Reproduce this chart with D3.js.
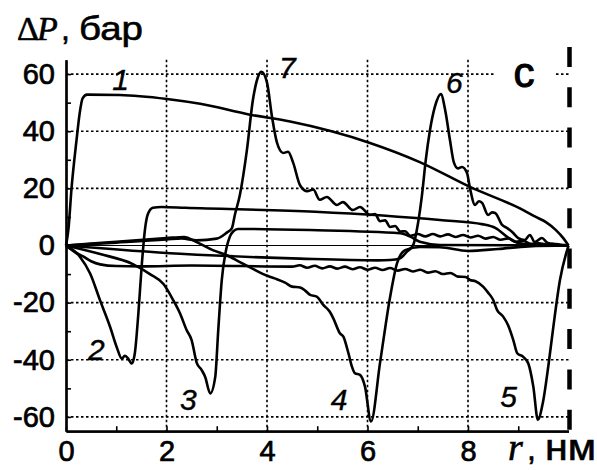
<!DOCTYPE html>
<html>
<head>
<meta charset="utf-8">
<script src="https://cdn.jsdelivr.net/npm/d3@7"></script>
<style>
  body { margin: 0; background: #fff; }
  svg { display: block; }
</style>
</head>
<body>
<div id="chart"></div>
<script>
// Values: [r (nm), dP (bar)]
const curve1 = [[0,0],[0.05,6],[0.11,20],[0.21,37],[0.27,46],[0.33,51.5],[0.42,52.8],[1.07,52.7],[2.01,51.3],[2.67,49.6],[3.66,45.8],[4.46,43.4],[6.05,35.9],[7.04,29.2],[8.04,20.5],[9.1,12.4],[9.35,10],[9.55,8.2],[9.75,5.4],[9.9,2.5],[10,0]];
const curve2 = [[0,0],[0.28,-4],[0.48,-9.8],[0.68,-19.3],[0.88,-28.6],[1.01,-35.6],[1.11,-39.6],[1.17,-38.6],[1.23,-39.4],[1.31,-41.3],[1.37,-37.7],[1.44,-23.8],[1.51,-6.3],[1.57,5.4],[1.63,11],[1.73,13.2],[1.9,13.5],[2.37,13.2],[4.96,11.8],[7.44,8.9],[8.3,7.4],[8.55,6.1],[8.8,2.8],[9.0,0.9],[9.3,0.2],[10,0]];
const curve3 = [[0,0],[0.68,-3],[1.33,-6.5],[1.67,-10],[1.94,-13.5],[2.13,-19],[2.27,-23.8],[2.4,-29.6],[2.5,-33.1],[2.6,-41],[2.7,-43.6],[2.77,-46],[2.87,-51.8],[2.97,-46],[3.03,-29.6],[3.1,-12.1],[3.2,-0.4],[3.26,3.1],[3.33,5],[3.42,5.8],[4.86,5.4],[6.65,4.3],[6.85,3.1],[7.04,1.3],[7.44,0.2],[10,0]];
const curve4 = [[0,0],[1.0,1.3],[2.0,2.6],[2.35,3.0],[2.6,1.2],[2.92,-1.6],[3.2,-3.4],[3.46,-5.8],[3.7,-8],[3.96,-10.3],[4.15,-11.5],[4.36,-13],[4.5,-14.4],[4.66,-14.7],[4.76,-15.8],[4.86,-17.3],[4.99,-17.9],[5.12,-20.8],[5.25,-23.2],[5.32,-25.5],[5.45,-30.7],[5.52,-31.9],[5.62,-37.7],[5.69,-42.4],[5.75,-44.7],[5.85,-45.3],[5.95,-49.4],[6.07,-61.6],[6.25,-41],[6.45,-18],[6.59,-6.1],[6.75,-1.6],[7.04,-0.5],[7.44,-0.6],[8.0,-1.9],[8.6,-1.2],[9.2,-0.3],[10,0]];
const curve5 = [[0,0],[0.15,-2],[0.34,-3.8],[0.5,-5.5],[0.68,-6.6],[1.0,-7.2],[1.5,-7.3],[2.5,-7.0],[4.5,-7.4],[4.65,-6.9],[4.8,-7.8],[4.95,-7.1],[5.1,-8.0],[5.25,-7.3],[5.4,-8.1],[5.55,-7.4],[5.7,-8.3],[5.85,-7.6],[6.0,-8.5],[6.15,-7.8],[6.3,-8.6],[6.45,-7.9],[6.6,-8.8],[6.75,-8.2],[6.9,-9.1],[7.05,-8.5],[7.2,-9.5],[7.35,-9.0],[7.5,-10.0],[7.65,-9.6],[7.8,-10.9],[7.95,-11.0],[8.04,-12.1],[8.15,-12.5],[8.3,-14.4],[8.4,-16.5],[8.5,-19],[8.58,-22.6],[8.7,-24.9],[8.8,-28],[8.9,-33],[8.98,-37.7],[9.1,-39],[9.2,-41.3],[9.3,-49.4],[9.39,-61],[9.49,-55],[9.6,-42],[9.69,-29.6],[9.83,-12.1],[10,0]];
const curve6 = [[0,0],[2.27,-2.9],[4.66,-4.6],[6.2,-5.2],[6.45,-5.1],[6.65,-4.5],[6.78,-2.2],[6.91,0.2],[7.01,8.3],[7.08,17],[7.16,30],[7.24,40],[7.34,48.5],[7.46,53],[7.55,47],[7.64,37],[7.72,29],[7.8,27],[7.88,27.5],[7.98,25.4],[8.04,20],[8.14,14.2],[8.22,15.5],[8.28,14.9],[8.4,10.7],[8.48,11.6],[8.54,11.4],[8.68,7.2],[8.78,6.1],[8.88,4.7],[9.0,2.6],[9.13,1.9],[9.23,3.7],[9.33,1.2],[9.47,2.6],[9.59,0.9],[9.75,0.5],[10,0]];
const curve7 = [[0,0],[1.0,1.0],[2.0,2.1],[2.3,2.5],[2.6,1.8],[3.0,2.4],[3.2,4.5],[3.3,6],[3.36,10.7],[3.46,17.7],[3.6,33.4],[3.72,51],[3.82,59],[3.89,60.8],[4.0,57],[4.1,45],[4.2,35.9],[4.32,32.4],[4.42,32.8],[4.52,29],[4.66,21],[4.8,19],[4.92,19.6],[5.05,16],[5.19,17],[5.39,14.2],[5.51,15.2],[5.71,12.4],[5.85,13.5],[6.05,10.7],[6.15,11.0],[6.25,8.5],[6.35,8.8],[6.45,6.5],[6.55,6.8],[6.65,4.9],[6.75,5.0],[6.85,3.4],[7.0,4.0],[7.15,3.2],[7.3,4.0],[7.45,3.2],[7.6,3.9],[7.75,3.0],[7.9,3.7],[8.05,2.8],[8.2,3.4],[8.35,2.4],[8.5,3.0],[8.65,2.0],[8.8,2.5],[8.95,1.3],[9.1,1.6],[9.25,0.6],[9.4,0.8],[9.6,0.2],[10,0]];
const curves = [curve1, curve2, curve3, curve4, curve5, curve6, curve7];

// Curve numbers, placed in data coordinates
const curveLabels = [
  {text: "1", r: 0.92, dp: 54.4},
  {text: "2", r: 0.44, dp: -40.1},
  {text: "3", r: 2.27, dp: -57.6},
  {text: "4", r: 5.27, dp: -57.6},
  {text: "5", r: 8.64, dp: -56.5},
  {text: "6", r: 7.56, dp: 53.4},
  {text: "7", r: 4.24, dp: 58.6}
];

const xTicks = [0, 2, 4, 6, 8];
const xMinorTicks = [1, 3, 5, 7, 9];
const yTicks = [-60, -40, -20, 0, 20, 40, 60];
const yMinorTicks = [-50, -30, -10, 10, 30, 50];
const xGrid = [2, 4, 6, 8];
const yGrid = [-60, -40, -20, 20, 40, 60];

/*******************************/
/*    Declare the constants    */
/*******************************/
const width = 597;
const height = 470;
const sans = "'Liberation Sans', Arial, sans-serif";
const serif = "'Liberation Serif', 'Times New Roman', serif";

const svg = d3.select("#chart")
  .append("svg")
    .attr("width", width)
    .attr("height", height)
    .attr("viewBox", `0 0 ${width} ${height}`);

svg.append("rect")
  .attr("width", width)
  .attr("height", height)
  .attr("fill", "#fff");

/****************************/
/*    Declare the scales    */
/****************************/
const xScale = d3.scaleLinear()
  .domain([0, 10])
  .range([66, 568.5]);
const yScale = d3.scaleLinear()
  .domain([-65, 65])
  .range([431.2, 59.8]);

/****************************/
/*        Grid lines        */
/****************************/
svg.append("g")
  .selectAll("line")
  .data(xGrid)
  .join("line")
    .attr("x1", d => xScale(d))
    .attr("x2", d => xScale(d))
    .attr("y1", yScale(65))
    .attr("y2", yScale(-65))
    .attr("stroke", "#000")
    .attr("stroke-width", 1.6)
    .attr("stroke-dasharray", "2.5,2.5");

svg.append("g")
  .selectAll("line")
  .data(yGrid)
  .join("line")
    .attr("x1", xScale(0))
    .attr("x2", xScale(10))
    .attr("y1", d => yScale(d))
    .attr("y2", d => yScale(d))
    .attr("stroke", "#000")
    .attr("stroke-width", 1.6)
    .attr("stroke-dasharray", "2.5,2.5");

// thin zero line
svg.append("line")
  .attr("x1", xScale(0))
  .attr("x2", xScale(10))
  .attr("y1", yScale(0))
  .attr("y2", yScale(0))
  .attr("stroke", "#000")
  .attr("stroke-width", 1);

/**************************/
/*      Add the axes      */
/**************************/
const bottomAxis = d3.axisBottom(xScale)
  .tickValues(xTicks)
  .tickFormat(d => String(d))
  .tickSizeInner(-5)
  .tickSizeOuter(0)
  .tickPadding(9);
svg.append("g")
  .attr("transform", `translate(0, ${yScale(-65)})`)
  .call(bottomAxis);

const bottomMinor = d3.axisBottom(xScale)
  .tickValues(xMinorTicks)
  .tickFormat("")
  .tickSizeInner(-5)
  .tickSizeOuter(0);
svg.append("g")
  .attr("transform", `translate(0, ${yScale(-65)})`)
  .call(bottomMinor);

const leftAxis = d3.axisLeft(yScale)
  .tickValues(yTicks)
  .tickFormat(d => String(d))
  .tickSizeInner(-5)
  .tickSizeOuter(0)
  .tickPadding(11);
svg.append("g")
  .attr("transform", `translate(${xScale(0)}, 0)`)
  .call(leftAxis);

const leftMinor = d3.axisLeft(yScale)
  .tickValues(yMinorTicks)
  .tickFormat("")
  .tickSizeInner(-5)
  .tickSizeOuter(0);
svg.append("g")
  .attr("transform", `translate(${xScale(0)}, 0)`)
  .call(leftMinor);

svg.selectAll(".domain").attr("stroke", "#000").attr("stroke-width", 2.2);
svg.selectAll(".tick line").attr("stroke", "#000").attr("stroke-width", 1.6);
svg.selectAll(".tick text")
  .attr("fill", "#000")
  .attr("stroke", "#000")
  .attr("stroke-width", 0.7)
  .style("font-family", sans)
  .style("font-size", "29px");

// dashed boundary at r = 10
svg.append("line")
  .attr("x1", xScale(10) + 1)
  .attr("x2", xScale(10) + 1)
  .attr("y1", 47)
  .attr("y2", yScale(-65))
  .attr("stroke", "#000")
  .attr("stroke-width", 4.5)
  .attr("stroke-dasharray", "20,20.3");

/******************************/
/*       Add the curves       */
/******************************/
const line = d3.line()
  .x(d => xScale(d[0]))
  .y(d => yScale(d[1]))
  .curve(d3.curveMonotoneX);

svg.append("g")
  .selectAll("path")
  .data(curves)
  .join("path")
    .attr("d", line)
    .attr("fill", "none")
    .attr("stroke", "#000")
    .attr("stroke-width", 2.6)
    .attr("stroke-linejoin", "round");

svg.append("g")
  .selectAll("text")
  .data(curveLabels)
  .join("text")
    .attr("x", d => xScale(d.r))
    .attr("y", d => yScale(d.dp))
    .text(d => d.text)
    .attr("stroke", "#000")
    .attr("stroke-width", 0.4)
    .style("font-family", sans)
    .style("font-style", "italic")
    .style("font-size", "30px");

/******************************/
/*     Titles and panel tag   */
/******************************/
svg.append("rect")
  .attr("x", 494)
  .attr("y", 58)
  .attr("width", 62)
  .attr("height", 34)
  .attr("fill", "#fff");
svg.append("text")
  .attr("x", 524)
  .attr("y", 87)
  .attr("text-anchor", "middle")
  .text("c")
  .attr("stroke", "#000")
  .attr("stroke-width", 1)
  .style("font-family", sans)
  .style("font-size", "42px");

// Y title: ΔP, бар
const titleY = svg.append("g").attr("stroke", "#000").attr("stroke-width", 0.6);
titleY.append("text").attr("x", 17).attr("y", 40).text("Δ")
  .style("font-family", serif).style("font-size", "34px");
titleY.append("text").attr("x", 37).attr("y", 40).text("P")
  .style("font-family", serif).style("font-style", "italic").style("font-size", "34px");
titleY.append("text").attr("x", 61).attr("y", 40).text(",")
  .style("font-family", sans).style("font-size", "32px");
titleY.append("text").attr("x", 79).attr("y", 40).text("бар")
  .attr("textLength", 64).attr("lengthAdjust", "spacingAndGlyphs")
  .style("font-family", sans).style("font-size", "34px");

// X title: r, нм
const titleX = svg.append("g").attr("stroke", "#000").attr("stroke-width", 0.6);
titleX.append("text").attr("x", 508).attr("y", 460).text("r")
  .style("font-family", serif).style("font-style", "italic").style("font-size", "38px");
titleX.append("text").attr("x", 527).attr("y", 460).text(",")
  .style("font-family", sans).style("font-size", "32px");
titleX.append("text").attr("x", 545).attr("y", 460).text("нм")
  .attr("textLength", 51).attr("lengthAdjust", "spacingAndGlyphs")
  .style("font-family", sans).style("font-size", "36px");
</script>
</body>
</html>
